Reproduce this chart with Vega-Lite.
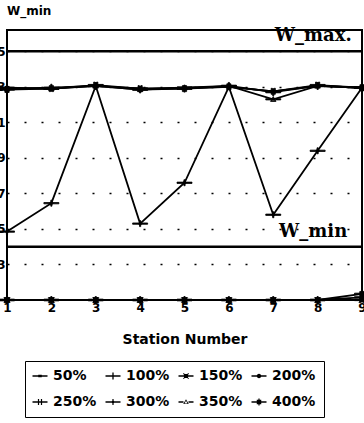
{
  "$schema": "https://vega.github.io/schema/vega-lite/v6.json",
  "autosize": {"type": "none"},
  "padding": {"left": 7, "top": 30, "right": 2, "bottom": 123},
  "width": 355,
  "height": 270,
  "title": {"text": "W_min", "anchor": "start", "frame": "group", "font": "DejaVu Sans", "fontSize": 12, "fontWeight": "bold", "color": "black", "offset": 9},
  "datasets": {
    "limits": [
      {"limit": "W_max.", "value": 15},
      {"limit": "W_min", "value": 4}
    ],
    "series": [
      {"station": 1, "series": "50%", "w": 12.95}, {"station": 2, "series": "50%", "w": 12.9}, {"station": 3, "series": "50%", "w": 13.05}, {"station": 4, "series": "50%", "w": 12.9}, {"station": 5, "series": "50%", "w": 12.95}, {"station": 6, "series": "50%", "w": 13.0}, {"station": 7, "series": "50%", "w": 12.75}, {"station": 8, "series": "50%", "w": 13.05}, {"station": 9, "series": "50%", "w": 12.95},
      {"station": 1, "series": "100%", "w": 12.9}, {"station": 2, "series": "100%", "w": 12.95}, {"station": 3, "series": "100%", "w": 13.05}, {"station": 4, "series": "100%", "w": 12.85}, {"station": 5, "series": "100%", "w": 12.9}, {"station": 6, "series": "100%", "w": 13.05}, {"station": 7, "series": "100%", "w": 12.7}, {"station": 8, "series": "100%", "w": 13.05}, {"station": 9, "series": "100%", "w": 12.95},
      {"station": 1, "series": "150%", "w": 1}, {"station": 2, "series": "150%", "w": 1}, {"station": 3, "series": "150%", "w": 1}, {"station": 4, "series": "150%", "w": 1}, {"station": 5, "series": "150%", "w": 1}, {"station": 6, "series": "150%", "w": 1}, {"station": 7, "series": "150%", "w": 1}, {"station": 8, "series": "150%", "w": 1}, {"station": 9, "series": "150%", "w": 1},
      {"station": 1, "series": "200%", "w": 1}, {"station": 2, "series": "200%", "w": 1}, {"station": 3, "series": "200%", "w": 1}, {"station": 4, "series": "200%", "w": 1}, {"station": 5, "series": "200%", "w": 1}, {"station": 6, "series": "200%", "w": 1}, {"station": 7, "series": "200%", "w": 1}, {"station": 8, "series": "200%", "w": 1}, {"station": 9, "series": "200%", "w": 1.15},
      {"station": 1, "series": "250%", "w": 12.85}, {"station": 2, "series": "250%", "w": 12.9}, {"station": 3, "series": "250%", "w": 13.1}, {"station": 4, "series": "250%", "w": 12.9}, {"station": 5, "series": "250%", "w": 12.9}, {"station": 6, "series": "250%", "w": 13.0}, {"station": 7, "series": "250%", "w": 12.75}, {"station": 8, "series": "250%", "w": 13.1}, {"station": 9, "series": "250%", "w": 12.95},
      {"station": 1, "series": "300%", "w": 4.85}, {"station": 2, "series": "300%", "w": 6.45}, {"station": 3, "series": "300%", "w": 13.05}, {"station": 4, "series": "300%", "w": 5.3}, {"station": 5, "series": "300%", "w": 7.6}, {"station": 6, "series": "300%", "w": 13.0}, {"station": 7, "series": "300%", "w": 5.8}, {"station": 8, "series": "300%", "w": 9.4}, {"station": 9, "series": "300%", "w": 12.95},
      {"station": 1, "series": "350%", "w": 12.9}, {"station": 2, "series": "350%", "w": 12.9}, {"station": 3, "series": "350%", "w": 13.05}, {"station": 4, "series": "350%", "w": 12.85}, {"station": 5, "series": "350%", "w": 12.95}, {"station": 6, "series": "350%", "w": 13.05}, {"station": 7, "series": "350%", "w": 12.3}, {"station": 8, "series": "350%", "w": 13.05}, {"station": 9, "series": "350%", "w": 12.95},
      {"station": 1, "series": "400%", "w": 1}, {"station": 2, "series": "400%", "w": 1}, {"station": 3, "series": "400%", "w": 1}, {"station": 4, "series": "400%", "w": 1}, {"station": 5, "series": "400%", "w": 1}, {"station": 6, "series": "400%", "w": 1}, {"station": 7, "series": "400%", "w": 1}, {"station": 8, "series": "400%", "w": 1}, {"station": 9, "series": "400%", "w": 1.35}
    ]
  },
  "layer": [
    {
      "data": {"name": "limits"},
      "mark": {"type": "rule", "color": "black", "strokeWidth": 2.5},
      "encoding": {
        "y": {"field": "value", "type": "quantitative", "scale": {"domain": [1, 16.2], "nice": false, "zero": false}}
      }
    },
    {
      "data": {"name": "limits"},
      "mark": {"type": "text", "font": "DejaVu Serif", "fontWeight": "bold", "fontSize": 18, "color": "black", "align": "center", "baseline": "alphabetic", "dy": -10},
      "encoding": {
        "x": {"datum": 7.9, "type": "quantitative"},
        "y": {"field": "value", "type": "quantitative"},
        "text": {"field": "limit"}
      }
    },
    {
      "data": {"name": "series"},
      "mark": {"type": "line", "color": "black", "strokeWidth": 1.8},
      "encoding": {
        "x": {"field": "station", "type": "quantitative", "title": "Station Number", "scale": {"domain": [1, 9], "nice": false, "zero": false}, "axis": {"values": [1, 2, 3, 4, 5, 6, 7, 8, 9], "format": "d", "labelFlush": false}},
        "y": {"field": "w", "type": "quantitative", "axis": {"values": [3, 5, 7, 9, 11, 13, 15], "format": "d"}},
        "detail": {"field": "series"}
      }
    },
    {
      "data": {"name": "series"},
      "mark": {"type": "point", "filled": false, "fill": "black", "fillOpacity": 1, "stroke": "black", "strokeWidth": 0.8, "size": 100, "opacity": 1},
      "encoding": {
        "x": {"field": "station", "type": "quantitative"},
        "y": {"field": "w", "type": "quantitative"},
        "shape": {
          "field": "series", "type": "nominal",
          "scale": {
            "domain": ["50%", "100%", "150%", "200%", "250%", "300%", "350%", "400%"],
            "range": [
              "M-1.5,-0.13H1.5V0.13H-1.5ZM-0.35,-0.25H0.35V0.25H-0.35Z",
              "M-1.5,-0.13H1.5V0.13H-1.5ZM-0.13,-0.7H0.13V0.7H-0.13Z",
              "M-1.5,-0.13H1.5V0.13H-1.5ZM-0.42,-0.42H0.42V0.42H-0.42ZM-0.6,-0.45L-0.45,-0.6L0.6,0.45L0.45,0.6ZM0.45,-0.6L0.6,-0.45L-0.45,0.6L-0.6,0.45Z",
              "M-1.5,-0.13H1.5V0.13H-1.5ZM0.45,0A0.45,0.45,0,1,1,-0.45,0A0.45,0.45,0,1,1,0.45,0Z",
              "M-1.5,-0.13H1.5V0.13H-1.5ZM-0.42,-0.6H-0.18V0.6H-0.42ZM0.18,-0.6H0.42V0.6H0.18Z",
              "M-1.5,-0.13H1.5V0.13H-1.5ZM-0.12,-0.6H0.12V0.6H-0.12ZM0,-0.38L0.38,0L0,0.38L-0.38,0Z",
              "M-1.5,-0.13H-0.5V0.13H-1.5ZM0.5,-0.13H1.5V0.13H0.5ZM-0.55,0.42L0,-0.55L0.55,0.42ZM-0.3,0.28L0.3,0.28L0,-0.25Z",
              "M-1.5,-0.13H1.5V0.13H-1.5ZM-0.45,-0.45H0.45V0.45H-0.45ZM-0.12,-0.7H0.12V0.7H-0.12Z"
            ]
          },
          "legend": {
            "title": null, "orient": "none", "legendX": 18, "legendY": 331, "direction": "horizontal", "columns": 4,
            "symbolStrokeColor": "black", "symbolFillColor": "black", "symbolStrokeWidth": 0.5
          }
        }
      }
    }
  ],
  "config": {
    "view": {"stroke": "black", "strokeWidth": 2},
    "axis": {
      "domain": false, "ticks": false,
      "labelFont": "DejaVu Sans", "labelFontWeight": "bold", "labelFontSize": 12, "labelColor": "black",
      "titleFont": "DejaVu Sans", "titleFontWeight": "bold", "titleFontSize": 14, "titleColor": "black"
    },
    "axisY": {"grid": true, "gridColor": "black", "gridDash": [2, 15], "gridWidth": 1.5, "labelPadding": 2, "title": null},
    "axisX": {"grid": false, "labelPadding": 2, "titlePadding": 19},
    "legend": {
      "symbolSize": 100,
      "labelFont": "DejaVu Sans", "labelFontSize": 14, "labelFontWeight": "bold", "labelColor": "black",
      "labelOffset": 6, "columnPadding": 7, "rowPadding": 12, "padding": 8,
      "strokeColor": "black"
    }
  }
}
